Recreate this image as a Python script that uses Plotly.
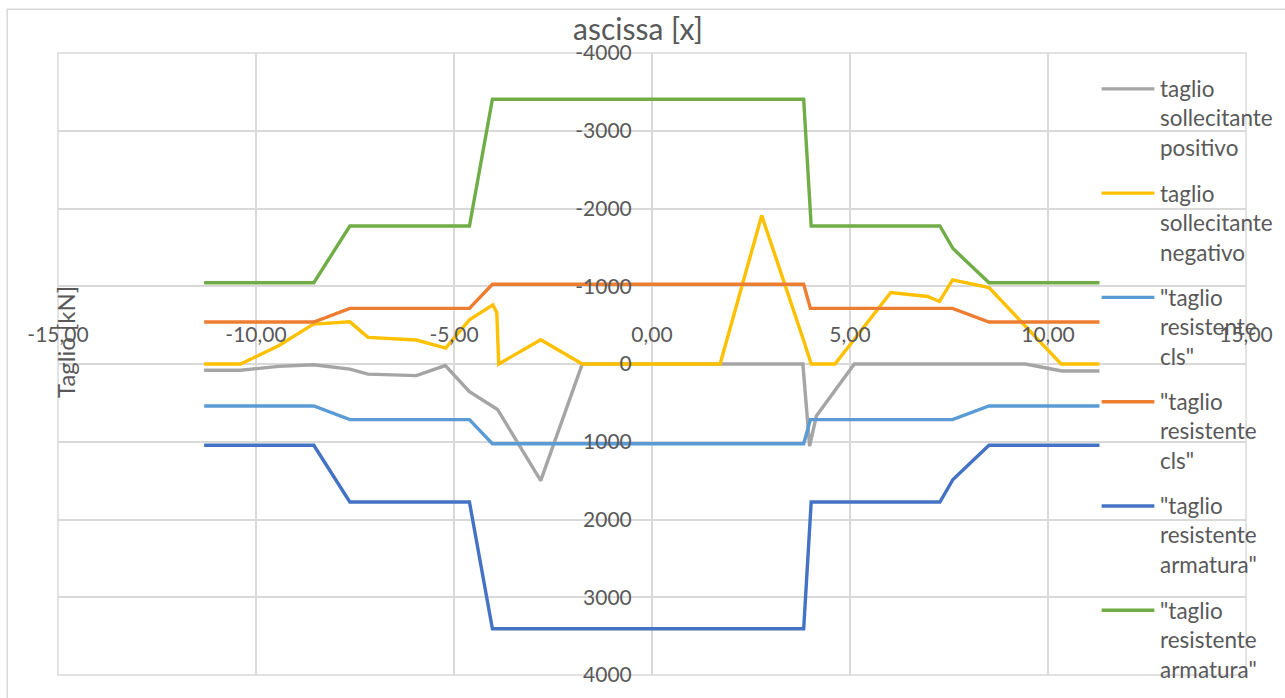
import plotly.graph_objects as go

# Shear diagram along the beam axis: acting shear vs. resisting shear
FONT = "Lato"
TXT = "#595959"
GRID = "#D9D9D9"

x_pos = [-11.31, -10.39, -9.43, -8.55, -7.63, -7.17, -5.95, -5.22, -4.61, -3.90,
         -2.81, -1.76, 3.81, 3.98, 4.15, 5.11, 9.43, 10.35, 11.30]
v_pos = [80, 80, 30, 10, 65, 130, 150, 20, 355, 585,
         1500, 0, 0, 1055, 670, 0, 0, 90, 90]

x_neg = [-11.31, -10.39, -9.43, -8.55, -7.63, -7.17, -5.95, -5.21, -4.61, -4.02,
         -3.92, -3.87, -2.81, -1.76, 1.72, 2.77, 3.84, 4.02, 4.62, 6.03,
         6.96, 7.26, 7.59, 8.51, 10.33, 11.30]
v_neg = [0, 0, -235, -513, -542, -342, -308, -205, -568, -760,
         -662, 0, -312, 0, 0, -1910, -286, 0, 0, -919,
         -868, -804, -1081, -983, 0, 0]

x_cls = [-11.31, -8.54, -7.63, -4.61, -4.03, 3.83, 4.00, 7.59, 8.51, 11.30]
v_cls_pos = [540, 540, 715, 715, 1025, 1025, 715, 715, 540, 540]
v_cls_neg = [-540, -540, -715, -715, -1025, -1025, -715, -715, -540, -540]

x_arm = [-11.31, -8.54, -7.63, -4.61, -4.03, 3.83, 4.02, 7.27, 7.60, 8.51, 11.30]
v_arm_pos = [1045, 1045, 1775, 1775, 3405, 3405, 1775, 1775, 1485, 1045, 1045]
v_arm_neg = [-1045, -1045, -1775, -1775, -3405, -3405, -1775, -1775, -1485, -1045, -1045]

x_ticks = [-15, -10, -5, 0, 5, 10, 15]
x_tick_text = ["-15,00", "-10,00", "-5,00", "0,00", "5,00", "10,00", "15,00"]
y_ticks = [-4000, -3000, -2000, -1000, 0, 1000, 2000, 3000, 4000]
y_tick_text = ["-4000", "-3000", "-2000", "-1000", "0", "1000", "2000", "3000", "4000"]

series = [
    ("taglio<br>sollecitante<br>positivo", x_pos, v_pos, "#A5A5A5"),
    ("taglio<br>sollecitante<br>negativo", x_neg, v_neg, "#FFC000"),
    ("\"taglio<br>resistente<br>cls\"", x_cls, v_cls_pos, "#5B9BD5"),
    ("\"taglio<br>resistente<br>cls\"", x_cls, v_cls_neg, "#ED7D31"),
    ("\"taglio<br>resistente<br>armatura\"", x_arm, v_arm_pos, "#4472C4"),
    ("\"taglio<br>resistente<br>armatura\"", x_arm, v_arm_neg, "#70AD47"),
]

W, H = 1285, 698
ML, MR, MT, MB = 58, 34, 53, 21


def px_x(p):
    return (p - ML) / (W - ML - MR)


def px_y(p):
    return (H - MB - p) / (H - MT - MB)


fig = go.Figure()
for name, xs, ys, col in series:
    fig.add_trace(go.Scatter(
        x=xs, y=ys, mode="lines", name=name.replace("<br>", " "),
        line=dict(color=col, width=3.4), cliponaxis=False,
    ))

# legend drawn as line samples + wrapped labels overlapping the right edge
shapes = [
    dict(type="rect", xref="paper", yref="paper",
         x0=px_x(7), y0=px_y(H + 20), x1=px_x(W + 20), y1=px_y(9),
         line=dict(color=GRID, width=1.5), layer="below"),
    dict(type="rect", xref="paper", yref="paper",
         x0=0, y0=0, x1=1, y1=1,
         line=dict(color=GRID, width=1.5), layer="below"),
]
annotations = [
    dict(text="ascissa [x]", xref="paper", yref="paper",
         x=px_x(640), y=px_y(28), xanchor="center", yanchor="middle",
         showarrow=False, font=dict(family=FONT, size=30, color=TXT)),
    dict(text="Taglio [kN]", xref="paper", yref="paper",
         x=px_x(65), y=px_y(343), xanchor="center", yanchor="middle",
         textangle=-90, showarrow=False,
         font=dict(family=FONT, size=24, color=TXT)),
]
leg_top = 89
leg_step = 104.6
for i, (name, _, _, col) in enumerate(series):
    yc = leg_top + i * leg_step
    shapes.append(dict(type="line", xref="paper", yref="paper",
                       x0=px_x(1106), x1=px_x(1159), y0=px_y(yc), y1=px_y(yc),
                       line=dict(color=col, width=3.4)))
    annotations.append(dict(text=name, xref="paper", yref="paper",
                            x=px_x(1163), y=px_y(yc + 29.5),
                            xanchor="left", yanchor="middle", align="left",
                            showarrow=False,
                            font=dict(family=FONT, size=22.5, color=TXT)))

fig.update_layout(
    width=W, height=H,
    margin=dict(l=ML, r=MR, t=MT, b=MB),
    paper_bgcolor="white", plot_bgcolor="white",
    font=dict(family=FONT, size=21, color=TXT),
    showlegend=False,
    xaxis=dict(
        range=[-15, 15], tickvals=x_ticks, ticktext=x_tick_text,
        anchor="free", position=0.5, side="top",
        showgrid=True, gridcolor=GRID, gridwidth=1.5,
        zeroline=False, showline=False,
        ticks="outside", ticklen=14, tickcolor="rgba(0,0,0,0)",
        tickfont=dict(family=FONT, size=21, color=TXT),
    ),
    yaxis=dict(
        range=[4000, -4000], tickvals=y_ticks, ticktext=y_tick_text,
        anchor="free", position=0.5, side="left",
        showgrid=True, gridcolor=GRID, gridwidth=1.5,
        zeroline=False, showline=False,
        ticks="outside", ticklen=16, tickcolor="rgba(0,0,0,0)",
        tickfont=dict(family=FONT, size=21, color=TXT),
    ),
    annotations=annotations,
    shapes=shapes,
)

fig.write_html("out.html")
